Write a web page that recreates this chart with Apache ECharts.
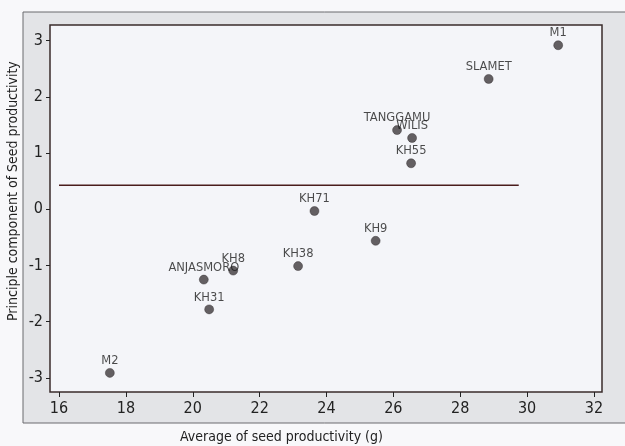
<!DOCTYPE html>
<html><head><meta charset="utf-8">
<script src="https://cdn.jsdelivr.net/npm/echarts@6/dist/echarts.min.js"></script>
<style>html,body{margin:0;padding:0;background:#f8f8fa;}#c{width:625px;height:446px;}</style>
</head><body><div id="c"></div>
<script>
const names = ['M1','SLAMET','TANGGAMU','WILIS','KH55','KH71','KH9','KH38','KH8','ANJASMORO','KH31','M2'];
const xValues = [30.93, 28.85, 26.11, 26.56, 26.53, 23.64, 25.47, 23.15, 21.21, 20.33, 20.49, 17.52];
const yValues = [2.92, 2.32, 1.41, 1.27, 0.82, -0.03, -0.56, -1.01, -1.09, -1.25, -1.78, -2.91];
const xTicks = [16, 18, 20, 22, 24, 26, 28, 30, 32];
const yTicks = [-3, -2, -1, 0, 1, 2, 3];
const refLineX = [16, 29.75];
const refLineY = 0.43;
const xTitle = 'Average of seed productivity (g)';
const yTitle = 'Principle component of Seed productivity';

const points = names.map((n, i) => ({ name: n, value: [xValues[i], yValues[i]] }));
const refLine = refLineX.map(x => [x, refLineY]);
const axisFont = 'Liberation Sans Narrow, DejaVu Sans Condensed, sans-serif';

const chart = echarts.init(document.getElementById('c'));
chart.setOption({
  animation: false,
  backgroundColor: '#f8f8fa',
  grid: { left: 50, right: 23, top: 25, bottom: 54, show: true, backgroundColor: '#f4f5f9', borderColor: '#3a2b2b', borderWidth: 1.5 },
  graphic: [
    { type: 'rect', z: -10, shape: { x: 23, y: 12, width: 620, height: 411 }, style: { fill: '#e3e4e7', stroke: '#6a6a6e', lineWidth: 1 } },
    { type: 'text', left: 180, top: 430, style: { text: xTitle, font: '14px ' + axisFont, fill: '#222' } },
    { type: 'text', x: 6, y: 321, rotation: Math.PI / 2, style: { text: yTitle, font: '14px ' + axisFont, fill: '#222' } }
  ],
  xAxis: {
    type: 'value', min: 15.73, max: 32.24,
    splitLine: { show: false },
    axisLine: { show: false, onZero: false },
    axisTick: { show: true, length: 5, customValues: xTicks, lineStyle: { color: '#222' } },
    axisLabel: { customValues: xTicks, margin: 9, fontSize: 16, fontFamily: axisFont, color: '#222' }
  },
  yAxis: {
    type: 'value', min: -3.25, max: 3.28,
    splitLine: { show: false },
    axisLine: { show: false, onZero: false },
    axisTick: { show: true, length: 4, customValues: yTicks, lineStyle: { color: '#222' } },
    axisLabel: { customValues: yTicks, margin: 7, fontSize: 16, fontFamily: axisFont, color: '#222' }
  },
  series: [
    {
      type: 'line', data: refLine, symbol: 'none', silent: true,
      lineStyle: { color: '#4a1c1c', width: 1.6 }
    },
    {
      type: 'scatter', data: points, symbolSize: 9,
      itemStyle: { color: '#3e393c', borderColor: '#2a2628', borderWidth: 0.5 },
      label: { show: true, position: 'top', distance: 1, formatter: '{b}', fontSize: 11.5, fontFamily: 'DejaVu Sans', color: '#1e1e1e' }
    }
  ]
});
</script>
</body></html>
